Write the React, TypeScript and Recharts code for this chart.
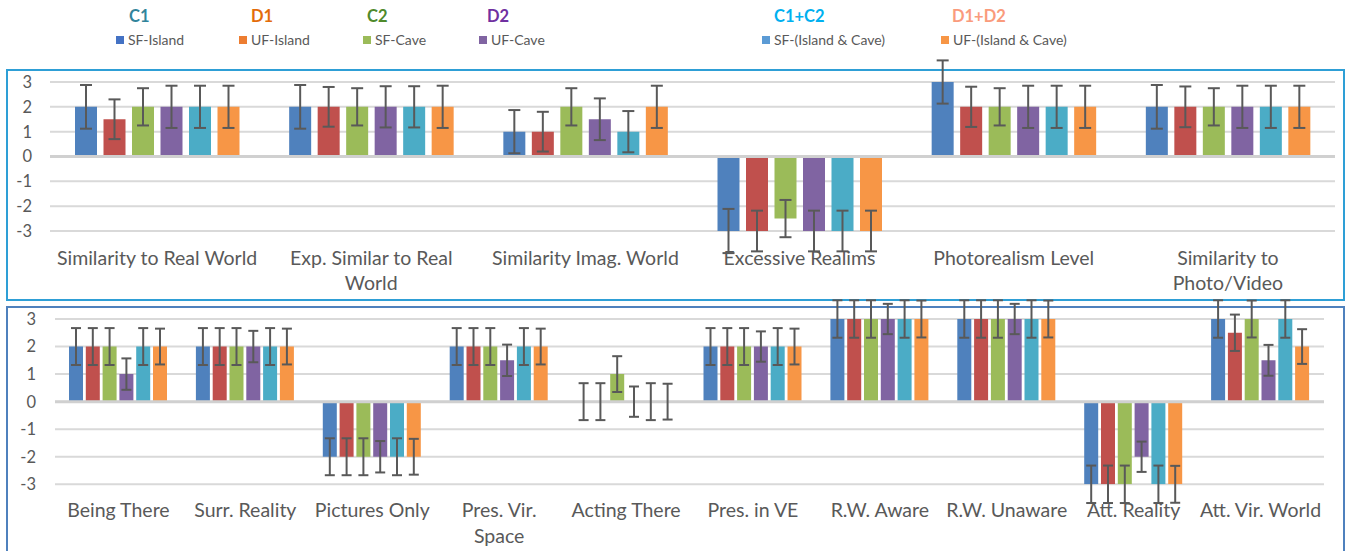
import React from "react";
import { BarChart, Bar, XAxis, YAxis, CartesianGrid, ErrorBar, ReferenceLine } from "recharts";

// ---------- legend ----------
const groupHeadings = ["C1", "D1", "C2", "D2", "C1+C2", "D1+D2"];
const headingColors = ["#31849b", "#e36c0a", "#4f8a2b", "#7030a0", "#00b0f0", "#fa9b7c"];
const seriesNames = ["SF-Island", "UF-Island", "SF-Cave", "UF-Cave", "SF-(Island & Cave)", "UF-(Island & Cave)"];
const legendColors = ["#4472c4", "#ed7d31", "#9bbb59", "#8064a2", "#5b9bd5", "#f79646"];
const barColors = ["#4f81bd", "#c0504d", "#9bbb59", "#8064a2", "#4bacc6", "#f79646"];

// ---------- top chart ----------
const topCategories = [
  "Similarity to Real World",
  "Exp. Similar to Real\nWorld",
  "Similarity Imag. World",
  "Excessive Realims",
  "Photorealism Level",
  "Similarity to\nPhoto/Video",
];
const sfIslandTop = [2, 2, 1, -3, 3, 2];
const ufIslandTop = [1.5, 2, 1, -3, 2, 2];
const sfCaveTop = [2, 2, 2, -2.5, 2, 2];
const ufCaveTop = [2, 2, 1.5, -3, 2, 2];
const sfBothTop = [2, 2, 1, -3, 2, 2];
const ufBothTop = [2, 2, 2, -3, 2, 2];

const sfIslandTopErr = [0.88, 0.88, 0.87, 0.89, 0.87, 0.88];
const ufIslandTopErr = [0.8, 0.8, 0.8, 0.82, 0.81, 0.82];
const sfCaveTopErr = [0.75, 0.75, 0.75, 0.75, 0.75, 0.75];
const ufCaveTopErr = [0.85, 0.83, 0.84, 0.82, 0.85, 0.85];
const sfBothTopErr = [0.85, 0.83, 0.83, 0.82, 0.85, 0.85];
const ufBothTopErr = [0.85, 0.85, 0.85, 0.82, 0.85, 0.85];

// ---------- bottom chart ----------
const bottomCategories = [
  "Being There",
  "Surr. Reality",
  "Pictures Only",
  "Pres. Vir.\nSpace",
  "Acting There",
  "Pres. in VE",
  "R.W. Aware",
  "R.W. Unaware",
  "Att. Reality",
  "Att. Vir. World",
];
const sfIslandBot = [2, 2, -2, 2, 0, 2, 3, 3, -3, 3];
const ufIslandBot = [2, 2, -2, 2, 0, 2, 3, 3, -3, 2.5];
const sfCaveBot = [2, 2, -2, 2, 1, 2, 3, 3, -3, 3];
const ufCaveBot = [1, 2, -2, 1.5, 0, 2, 3, 3, -2, 1.5];
const sfBothBot = [2, 2, -2, 2, 0, 2, 3, 3, -3, 3];
const ufBothBot = [2, 2, -2, 2, 0, 2, 3, 3, -3, 2];

const sfIslandBotErr = [0.67, 0.67, 0.67, 0.67, 0.67, 0.67, 0.68, 0.68, 0.68, 0.68];
const ufIslandBotErr = [0.67, 0.67, 0.67, 0.67, 0.67, 0.67, 0.68, 0.68, 0.68, 0.66];
const sfCaveBotErr = [0.67, 0.67, 0.67, 0.67, 0.65, 0.67, 0.68, 0.68, 0.68, 0.67];
const ufCaveBotErr = [0.57, 0.57, 0.57, 0.57, 0.55, 0.55, 0.55, 0.55, 0.55, 0.56];
const sfBothBotErr = [0.67, 0.67, 0.67, 0.67, 0.67, 0.67, 0.68, 0.68, 0.68, 0.68];
const ufBothBotErr = [0.65, 0.65, 0.65, 0.65, 0.65, 0.65, 0.67, 0.67, 0.67, 0.63];

const yTicks = [-3, -2, -1, 0, 1, 2, 3];

const topValues = [sfIslandTop, ufIslandTop, sfCaveTop, ufCaveTop, sfBothTop, ufBothTop];
const topErrors = [sfIslandTopErr, ufIslandTopErr, sfCaveTopErr, ufCaveTopErr, sfBothTopErr, ufBothTopErr];
const botValues = [sfIslandBot, ufIslandBot, sfCaveBot, ufCaveBot, sfBothBot, ufBothBot];
const botErrors = [sfIslandBotErr, ufIslandBotErr, sfCaveBotErr, ufCaveBotErr, sfBothBotErr, ufBothBotErr];

function buildRows(cats: string[], vals: number[][], errs: number[][]) {
  return cats.map((c, i) => {
    const row: any = { name: c };
    vals.forEach((s, k) => {
      row["v" + k] = s[i];
      row["e" + k] = errs[k][i];
    });
    return row;
  });
}

const topData = buildRows(topCategories, topValues, topErrors);
const botData = buildRows(bottomCategories, botValues, botErrors);

const FONT = "Lato, 'Open Sans', sans-serif";
const TEXT = "#595959";

const makeTick = (firstDy: number, lineH: number, size: number) => (props: any) => {
  const { x, y, payload } = props;
  const parts = String(payload.value).split("\n");
  return (
    <text x={x} y={y} textAnchor="middle" fill={TEXT} fontSize={size} fontFamily={FONT}>
      {parts.map((p, i) => (
        <tspan key={i} x={x} dy={i === 0 ? firstDy : lineH}>
          {p}
        </tspan>
      ))}
    </text>
  );
};

function Panel(props: {
  data: any[];
  width: number;
  height: number;
  margin: any;
  yWidth: number;
  xHeight: number;
  tickMargin: number;
  barSize: number;
  barGap: number;
  whisker: number;
  firstDy: number;
  lineH: number;
}) {
  const { data, width, height, margin, yWidth, xHeight, tickMargin, barSize, barGap, whisker, firstDy, lineH } = props;
  return (
    <BarChart width={width} height={height} data={data} margin={margin} barSize={barSize} barGap={barGap}>
      <CartesianGrid vertical={false} stroke="#d9d9d9" strokeWidth={2} />
      <ReferenceLine y={0} stroke="#d0d0d0" strokeWidth={3} />
      <XAxis
        dataKey="name"
        axisLine={false}
        tickLine={false}
        tickSize={0}
        tickMargin={0}
        height={xHeight}
        interval={0}
        tick={makeTick(firstDy, lineH, 19.5)}
      />
      <YAxis
        type="number"
        domain={[-3, 3]}
        ticks={yTicks}
        allowDataOverflow
        interval={0}
        width={yWidth}
        axisLine={false}
        tickLine={false}
        tickSize={6}
        tickMargin={tickMargin}
        tick={{ fill: TEXT, fontSize: 16.5, fontFamily: FONT }}
      />
      {seriesNames.map((n, k) => (
        <Bar
          key={n}
          dataKey={"v" + k}
          name={n}
          fill={barColors[k]}
          minPointSize={0.1}
          isAnimationActive={false}
        >
          <ErrorBar
            dataKey={"e" + k}
            direction="y"
            width={whisker}
            stroke="#595959"
            strokeWidth={2}
            isAnimationActive={false}
          />
        </Bar>
      ))}
    </BarChart>
  );
}

const headingX = [129, 251, 367, 487, 774, 952];
const markerX = [116, 239, 363, 479, 762, 941];

export default function App() {
  return (
    <div
      style={{
        position: "absolute",
        left: 0,
        top: 0,
        width: 1348,
        height: 551,
        overflow: "hidden",
        background: "#ffffff",
        fontFamily: FONT,
      }}
    >
      {groupHeadings.map((h, i) => (
        <div
          key={h}
          style={{
            position: "absolute",
            left: headingX[i],
            top: 6,
            fontSize: 16.5,
            fontWeight: 700,
            color: headingColors[i],
            lineHeight: "20px",
            whiteSpace: "nowrap",
          }}
        >
          {h}
        </div>
      ))}
      {seriesNames.map((n, i) => (
        <div
          key={n}
          style={{
            position: "absolute",
            left: markerX[i],
            top: 31,
            fontSize: 14,
            color: TEXT,
            lineHeight: "18px",
            whiteSpace: "nowrap",
            display: "flex",
            alignItems: "center",
          }}
        >
          <span
            style={{ display: "inline-block", width: 8, height: 8, background: legendColors[i], marginRight: 4 }}
          />
          <span>{n}</span>
        </div>
      ))}

      <div
        style={{
          position: "absolute",
          left: 6,
          top: 69,
          width: 1335,
          height: 228,
          border: "2px solid #2e9fd6",
          boxSizing: "content-box",
        }}
      />
      <div
        style={{
          position: "absolute",
          left: 6,
          top: 306,
          width: 1335,
          height: 260,
          border: "2px solid #4f81bd",
        }}
      />

      <div style={{ position: "absolute", left: 0, top: 50 }}>
        <Panel
          data={topData}
          width={1348}
          height={250}
          margin={{ top: 32, right: 13, left: 0, bottom: 0 }}
          yWidth={50}
          xHeight={69}
          tickMargin={12}
          barSize={22}
          barGap={6.5}
          whisker={6}
          firstDy={33.5}
          lineH={25}
        />
      </div>
      <div style={{ position: "absolute", left: 0, top: 295 }}>
        <Panel
          data={botData}
          width={1348}
          height={256}
          margin={{ top: 24, right: 24, left: 0, bottom: 0 }}
          yWidth={55}
          xHeight={66.7}
          tickMargin={13}
          barSize={14}
          barGap={2.8}
          whisker={5}
          firstDy={33}
          lineH={26}
        />
      </div>
    </div>
  );
}
